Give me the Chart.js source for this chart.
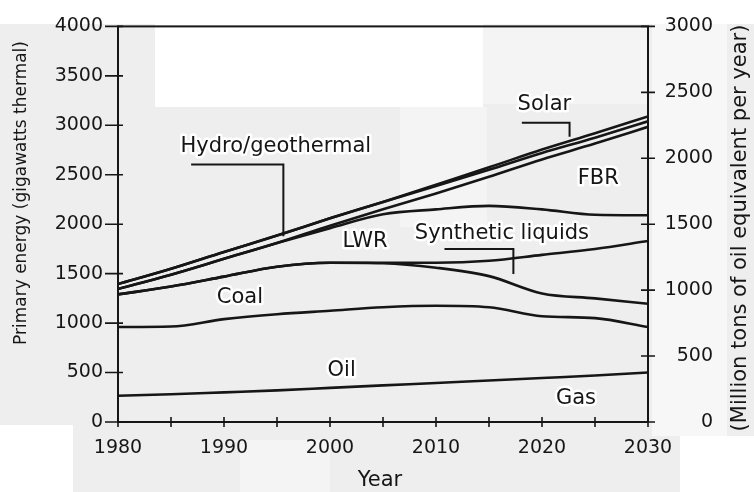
<!DOCTYPE html>
<html>
<head>
<meta charset="utf-8">
<script src="https://cdn.jsdelivr.net/npm/chart.js@4.4.1/dist/chart.umd.min.js"></script>
<style>
  html, body { margin: 0; padding: 0; background: #ffffff; }
  #wrap { width: 754px; height: 492px; }
</style>
</head>
<body>
<div id="wrap"><canvas id="c" width="754" height="492"></canvas></div>
<script>
// ---- data (band widths, gigawatts thermal; stacked bottom to top) ----
const years = [1980, 1985, 1990, 1995, 2000, 2005, 2010, 2015, 2020, 2025, 2030];
const gas       = [265, 280, 300, 320, 345, 370, 395, 420, 445, 470, 500];
const oil       = [695, 685, 740, 770, 780, 790, 780, 740, 625, 580, 460];
const coal      = [330, 405, 430, 480, 485, 445, 385, 315, 230, 200, 235];
const synthetic = [0, 0, 0, 0, 0, 5, 50, 155, 390, 500, 635];
const lwr       = [55, 120, 180, 240, 350, 490, 540, 555, 460, 345, 260];
const fbr       = [0, 0, 0, 0, 25, 50, 160, 295, 505, 720, 895];
const hydro     = [50, 60, 70, 75, 75, 75, 75, 70, 65, 60, 55];
const solar     = [0, 0, 0, 0, 0, 0, 15, 25, 35, 45, 50];

const seriesNames = ['Gas', 'Oil', 'Coal', 'Synthetic liquids', 'LWR', 'FBR', 'Hydro/geothermal', 'Solar'];
const seriesValues = [gas, oil, coal, synthetic, lwr, fbr, hydro, solar];

const leftTicks = [0, 500, 1000, 1500, 2000, 2500, 3000, 3500, 4000];
const rightTicks = [0, 500, 1000, 1500, 2000, 2500, 3000];
const xLabelYears = [1980, 1990, 2000, 2010, 2020, 2030];

const leftTitle = 'Primary energy (gigawatts thermal)';
const rightTitle = '(Million tons of oil equivalent per year)';
const xTitle = 'Year';

// in-chart labels: [text, year, value, align]
const bandLabels = [
  ['Coal', 1991.5, 1256, 'center'],
  ['Oil', 2001.1, 523, 'center'],
  ['Gas', 2023.2, 241, 'center'],
  ['LWR', 2003.3, 1820, 'center'],
  ['Synthetic liquids', 2008.0, 1910, 'left'],
  ['FBR', 2025.3, 2462, 'center'],
  ['Hydro/geothermal', 1985.9, 2790, 'left'],
  ['Solar', 2017.7, 3206, 'left']
];
// leader lines as polylines of [year, value]
const leaders = [
  [[1986.9, 2603], [1995.6, 2603], [1995.6, 1879]],
  [[2018.1, 3025], [2022.6, 3025], [2022.6, 2884]],
  [[2010.8, 1749], [2017.3, 1749], [2017.3, 1497]]
];

const INK = '#161616';
const FONT = '"DejaVu Sans", "Liberation Sans", sans-serif';

const datasets = seriesValues.map((vals, i) => ({
  label: seriesNames[i],
  data: years.map((y, j) => ({ x: y, y: vals[j] })),
  borderColor: INK,
  borderWidth: 2.6,
  pointRadius: 0,
  fill: false,
  cubicInterpolationMode: 'monotone',
  yAxisID: 'y'
}));

const decor = {
  id: 'decor',
  beforeDraw(chart) {
    const ctx = chart.ctx;
    ctx.save();
    ctx.fillStyle = '#eeeeee';
    ctx.fillRect(0, 0, 754, 492);
    ctx.fillStyle = '#ffffff';
    ctx.fillRect(0, 0, 754, 24);
    ctx.fillRect(0, 425, 73, 67);
    ctx.fillRect(680, 436, 74, 56);
    ctx.fillRect(155, 24, 328, 83);
    ctx.fillStyle = '#f7f7f7';
    ctx.fillRect(652, 24, 75, 412);
    ctx.fillStyle = '#f4f4f4';
    ctx.fillRect(483, 24, 165, 80);
    ctx.fillRect(400, 107, 87, 120);
    ctx.fillRect(240, 440, 90, 52);
    ctx.restore();
  },
  afterDatasetsDraw(chart) {
    const ctx = chart.ctx;
    const xs = chart.scales.x, ys = chart.scales.y, y1 = chart.scales.y1;
    const a = chart.chartArea;
    ctx.save();
    ctx.strokeStyle = INK;
    ctx.lineCap = 'butt';
    // frame
    ctx.lineWidth = 2;
    ctx.strokeRect(a.left, a.top, a.right - a.left, a.bottom - a.top);
    // tick marks
    ctx.lineWidth = 1.6;
    ctx.beginPath();
    leftTicks.forEach(v => {
      const p = ys.getPixelForValue(v);
      ctx.moveTo(a.left - 13, p); ctx.lineTo(a.left + 5, p);
    });
    rightTicks.forEach(v => {
      const p = y1.getPixelForValue(v);
      ctx.moveTo(a.right - 7, p); ctx.lineTo(a.right + 7, p);
    });
    for (let yr = 1980; yr <= 2030; yr += 5) {
      const p = xs.getPixelForValue(yr);
      ctx.moveTo(p, a.bottom - 5); ctx.lineTo(p, a.bottom + 5);
    }
    ctx.stroke();
    // leaders
    ctx.lineWidth = 2;
    leaders.forEach(pl => {
      ctx.beginPath();
      pl.forEach((pt, k) => {
        const px = xs.getPixelForValue(pt[0]), py = ys.getPixelForValue(pt[1]);
        if (k === 0) ctx.moveTo(px, py); else ctx.lineTo(px, py);
      });
      ctx.stroke();
    });
    // band labels with white halo
    ctx.font = '21px ' + FONT;
    ctx.textBaseline = 'middle';
    bandLabels.forEach(([t, yr, v, al]) => {
      const px = xs.getPixelForValue(yr), py = ys.getPixelForValue(v);
      ctx.textAlign = al;
      ctx.lineWidth = 5;
      ctx.strokeStyle = '#ffffff';
      ctx.lineJoin = 'round';
      ctx.strokeText(t, px, py);
      ctx.fillStyle = INK;
      ctx.fillText(t, px, py);
    });
    // axis titles
    ctx.fillStyle = INK;
    ctx.textAlign = 'center';
    ctx.font = '17px ' + FONT;
    ctx.save();
    ctx.translate(22, 193);
    ctx.rotate(-Math.PI / 2);
    ctx.fillText(leftTitle, 0, 0);
    ctx.restore();
    ctx.font = '21px ' + FONT;
    ctx.save();
    ctx.translate(741, 228);
    ctx.rotate(-Math.PI / 2);
    ctx.fillText(rightTitle, 0, 0);
    ctx.restore();
    ctx.font = '21px ' + FONT;
    ctx.fillText(xTitle, 380, 481);
    ctx.restore();
  }
};

const tickFont = { family: FONT, size: 19 };

new Chart(document.getElementById('c'), {
  type: 'line',
  data: { datasets },
  options: {
    responsive: false,
    animation: false,
    devicePixelRatio: 1,
    layout: { padding: { top: 24, left: 0, right: 41, bottom: 0 } },
    plugins: { legend: { display: false }, tooltip: { enabled: false } },
    scales: {
      x: {
        type: 'linear', position: 'bottom', min: 1980, max: 2030,
        grid: { display: false, drawTicks: false }, border: { display: false },
        afterBuildTicks: s => { s.ticks = xLabelYears.map(v => ({ value: v })); },
        ticks: { color: INK, font: tickFont, padding: 15, maxRotation: 0, autoSkip: false,
                 callback: v => String(v) },
        afterFit: s => { s.height = 70; }
      },
      y: {
        type: 'linear', position: 'left', stacked: true, min: 0, max: 4000,
        grid: { display: false, drawTicks: false }, border: { display: false },
        afterBuildTicks: s => { s.ticks = leftTicks.map(v => ({ value: v })); },
        ticks: { color: INK, font: tickFont, padding: 15, callback: v => String(v) },
        afterFit: s => { s.width = 118; }
      },
      y1: {
        type: 'linear', position: 'right', min: 0, max: 3000, display: true,
        grid: { display: false, drawTicks: false }, border: { display: false },
        afterBuildTicks: s => { s.ticks = rightTicks.map(v => ({ value: v })); },
        ticks: { color: INK, font: tickFont, padding: 13, crossAlign: 'far', callback: v => String(v) },
        afterFit: s => { s.width = 65; }
      }
    }
  },
  plugins: [decor]
});
</script>
</body>
</html>
